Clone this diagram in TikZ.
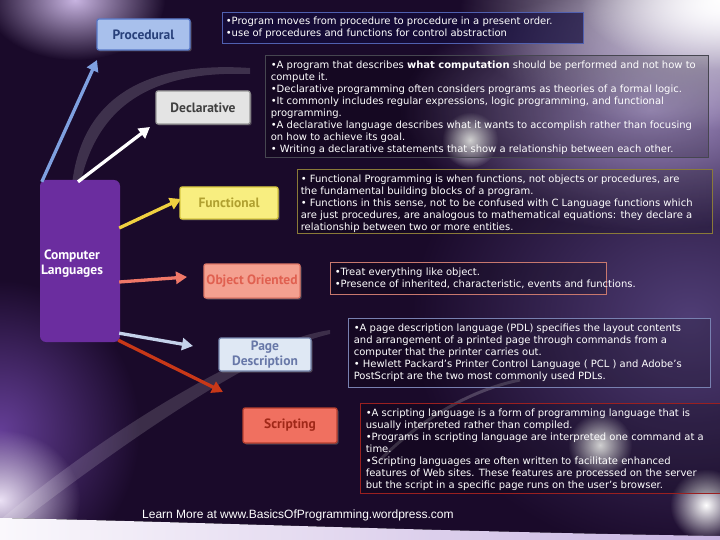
\documentclass[tikz,border=0pt]{standalone}
\usepackage{fontspec}
\setmainfont{DejaVu Sans}
\newfontfamily\lblfont{PT Sans}
\newfontfamily\footfont{Liberation Sans}
\usetikzlibrary{arrows.meta,calc,fadings,shadows}
\tikzfading[name=glowfade, inner color=transparent!0, outer color=transparent!100]
\definecolor{bgdark}{HTML}{1A0A2A}
\definecolor{procfill}{HTML}{A8C0EC}\definecolor{procdraw}{HTML}{5878C8}\definecolor{proctext}{HTML}{28407A}
\definecolor{declfill}{HTML}{E4E4E4}\definecolor{decldraw}{HTML}{9A9A9A}\definecolor{decltext}{HTML}{404040}
\definecolor{funcfill}{HTML}{F8EE80}\definecolor{funcdraw}{HTML}{D8C840}\definecolor{functext}{HTML}{B0A030}
\definecolor{clfill}{HTML}{6B2D9F}
\definecolor{oofill}{HTML}{F4A090}\definecolor{oodraw}{HTML}{E07868}\definecolor{ootext}{HTML}{E06050}
\definecolor{pdfill}{HTML}{DFE8F4}\definecolor{pddraw}{HTML}{7888B0}\definecolor{pdtext}{HTML}{6878A8}
\definecolor{scrfill}{HTML}{F07060}\definecolor{scrdraw}{HTML}{B84030}\definecolor{scrtext}{HTML}{A02818}
\definecolor{arrblue}{HTML}{7FA0E0}\definecolor{arryellow}{HTML}{F0D040}
\definecolor{arrsalmon}{HTML}{F07868}\definecolor{arrpd}{HTML}{C4D2EA}\definecolor{arrred}{HTML}{C83818}
\begin{document}
\begin{tikzpicture}[x=1pt,y=-1pt,
  lbl/.style={draw, line width=1.3pt, rounded corners=2pt, inner sep=0pt, align=center,
    font=\lblfont\bfseries\fontsize{13.5}{14.5}\selectfont,
    drop shadow={opacity=0.45, shadow xshift=1.5pt, shadow yshift=-1.5pt}},
  tbox/.style={draw, line width=0.8pt, inner sep=0pt, fill=black, fill opacity=0.18},
  txt/.style={anchor=north west, align=left, inner sep=0pt, text=white,
    font=\fontsize{10}{12}\selectfont},
  arr/.style={line width=3.3pt, -{Triangle[length=11pt,width=12pt]}},
  glow/.style={path fading=glowfade}
]
\useasboundingbox (0,0) rectangle (720,540);
% ---------- background ----------
\fill[bgdark] (0,0) rectangle (720,540);
\fill[glow, color={rgb,255:red,80;green,62;blue,118}] (690,320) ellipse (280 and 240);
\fill[glow, color={rgb,255:red,170;green,150;blue,205}] (650,110) ellipse (250 and 120);
\fill[glow, color={rgb,255:red,240;green,235;blue,250}] (720,10) ellipse (260 and 120);
\fill[glow, color=white] (720,0) ellipse (140 and 70);
\fill[glow, color={rgb,255:red,200;green,180;blue,225}] (75,0) ellipse (90 and 60);
\fill[glow, color={rgb,255:red,100;green,62;blue,150}] (0,430) ellipse (140 and 150);
\fill[glow, color={rgb,255:red,235;green,225;blue,245}] (0,500) ellipse (80 and 70);
\fill[glow, color=white] (470,140) circle (28);
\fill[glow, color=white] (600,445) circle (32);
\fill[glow, color=white] (706,505) circle (36);
% decorative swooshes
\fill[white, opacity=0.16] (72,185) .. controls (80,110) and (130,60) .. (250,68)
   -- (250,74) .. controls (140,70) and (95,115) .. (80,185) -- cycle;
\fill[white, opacity=0.15] (0,520) .. controls (120,420) and (260,340) .. (330,330)
   -- (330,334) .. controls (260,350) and (140,430) .. (10,530) -- cycle;
\draw[white, opacity=0.2, line width=3pt] (380,460) .. controls (420,420) and (470,390) .. (520,380);
% bottom light band
\fill[left color={rgb,255:red,250;green,248;blue,252}, right color={rgb,255:red,200;green,180;blue,225}]
  (0,518) .. controls (200,522) and (450,532) .. (720,536) -- (720,540) -- (0,540) -- cycle;
% ---------- arrow end points ----------
\coordinate (aP) at (97,60);
\coordinate (aD) at (150,127);
\coordinate (aF) at (181,199);
\coordinate (aO) at (187,277);
\coordinate (aPD) at (193,346);
\coordinate (aS) at (223,392);
% ---------- main box ----------
\node[fill=clfill, rounded corners=6pt, minimum width=80pt, minimum height=162pt, inner sep=0pt] (cl) at (80,261) {};
\draw[arr, arrblue] ($(cl.north west)+(2,2)$) -- (aP);
\draw[arr, white] ($(cl.north)+(-2,2)$) -- (aD);
\draw[arr, arryellow] ($(cl.east)+(-1,-33)$) -- (aF);
\draw[arr, arrsalmon] ($(cl.east)+(-1,21)$) -- (aO);
\draw[arr, arrpd] ($(cl.south east)+(-1,-9)$) -- (aPD);
\draw[arr, arrred] ($(cl.south east)+(-2,-2)$) -- (aS);
\node[text=white, align=center, inner sep=0pt, font=\lblfont\bfseries\fontsize{13.5}{15}\selectfont] (clt) at (72,264) {Computer\\Languages};
% ---------- category boxes ----------
\node[lbl, fill=procfill, draw=procdraw, text=proctext, minimum width=93pt, minimum height=31pt] (proc) at (143.5,34.5) {Procedural};
\node[lbl, fill=declfill, draw=decldraw, text=decltext, minimum width=94pt, minimum height=33pt] (decl) at (203,107.5) {Declarative};
\node[lbl, fill=funcfill, draw=funcdraw, text=functext, minimum width=98pt, minimum height=32pt] (func) at (229,203) {Functional};
\node[lbl, fill=oofill, draw=oodraw, text=ootext, minimum width=96pt, minimum height=34pt] (oo) at (252,281) {Object Oriented};
\node[lbl, fill=pdfill, draw=pddraw, text=pdtext, minimum width=92pt, minimum height=33pt] (pd) at (265,354.5) {Page\\Description};
\node[lbl, fill=scrfill, draw=scrdraw, text=scrtext, minimum width=94pt, minimum height=35pt] (scr) at (290,425.5) {Scripting};
% ---------- description boxes ----------
\node[tbox, draw={rgb,255:red,80;green,96;blue,176}, fill={rgb,255:red,20;green,12;blue,60}, fill opacity=0.7, minimum width=361pt, minimum height=31pt] (tproc) at (402.5,27.5) {};
\node[txt] at ($(tproc.north west)+(4,5)$) {•Program moves from procedure to procedure in a present order.\\•use of procedures and functions for control abstraction};

\node[tbox, draw={rgb,255:red,70;green,70;blue,80}, minimum width=443pt, minimum height=102pt] (tdecl) at (486.5,106) {};
\node[txt] at ($(tdecl.north west)+(6,6)$) {•A program that describes \textbf{what computation} should be performed and not how to\\compute it.\\•Declarative programming often considers programs as theories of a formal logic.\\•It commonly includes regular expressions, logic programming, and functional\\programming.\\•A declarative language describes what it wants to accomplish rather than focusing\\on how to achieve its goal.\\• Writing a declarative statements that show a relationship between each other.};

\node[tbox, draw={rgb,255:red,138;green,122;blue,56}, minimum width=415pt, minimum height=64pt] (tfunc) at (504.5,201) {};
\node[txt] at ($(tfunc.north west)+(4,6)$) {• Functional Programming is when functions, not objects or procedures, are\\the fundamental building blocks of a program.\\• Functions in this sense, not to be confused with C Language functions which\\are just procedures, are analogous to mathematical equations: they declare a\\relationship between two or more entities.};

\node[tbox, draw={rgb,255:red,200;green,120;blue,110}, minimum width=276pt, minimum height=32pt] (too) at (468,278) {};
\node[txt] at ($(too.north west)+(5,6)$) {•Treat everything like object.\\•Presence of inherited, characteristic, events and functions.};

\node[tbox, draw={rgb,255:red,120;green,128;blue,176}, minimum width=362pt, minimum height=69pt] (tpd) at (529,352.5) {};
\node[txt] at ($(tpd.north west)+(6,6)$) {•A page description language (PDL) specifies the layout contents\\and arrangement of a printed page through commands from a\\computer that the printer carries out.\\• Hewlett Packard’s Printer Control Language ( PCL ) and Adobe’s\\PostScript are the two most commonly used PDLs.};

\node[tbox, draw={rgb,255:red,154;green,32;blue,32}, minimum width=360pt, minimum height=90pt] (tscr) at (540,448) {};
\node[txt] at ($(tscr.north west)+(6,6)$) {•A scripting language is a form of programming language that is\\usually interpreted rather than compiled.\\•Programs in scripting language are interpreted one command at a\\time.\\•Scripting languages are often written to facilitate enhanced\\features of Web sites. These features are processed on the server\\but the script in a specific page runs on the user’s browser.};
% ---------- footer ----------
\node[anchor=west, inner sep=0pt, text=white, font=\footfont\fontsize{12}{14}\selectfont] (foot) at (142,515) {Learn More at www.BasicsOfProgramming.wordpress.com};
\end{tikzpicture}
\end{document}
